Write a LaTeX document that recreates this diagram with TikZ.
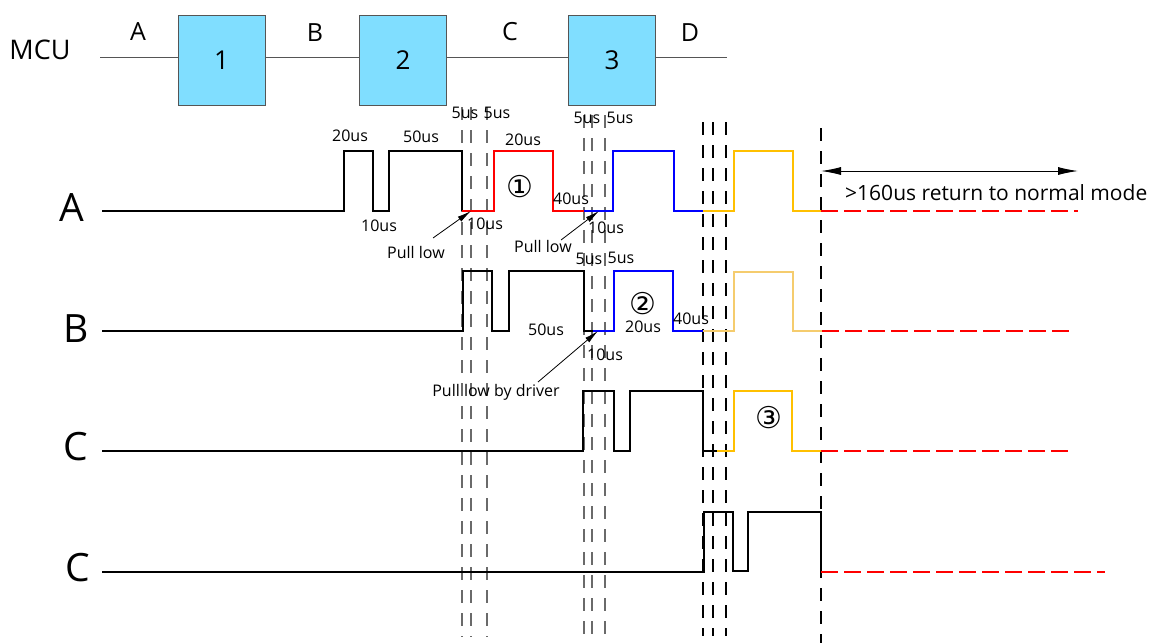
\documentclass[tikz,border=0pt]{standalone}
\usepackage{fontspec}
\setmainfont{Open Sans}
\newfontfamily\circfont{DejaVu Sans}
\usetikzlibrary{arrows.meta}

\definecolor{boxcyan}{HTML}{80DEFF}
\definecolor{wred}{HTML}{FF0000}
\definecolor{wblue}{HTML}{0000FF}
\definecolor{wyel}{HTML}{FFC000}
\definecolor{wyellight}{HTML}{F5CC6E}
\definecolor{dgray}{HTML}{555555}
\definecolor{lgray}{HTML}{6A6A6A}

\tikzset{
  lbl/.style={font=\fontsize{16}{18}\selectfont, inner sep=0pt},
  toplbl/.style={font=\fontsize{25}{28}\selectfont, inner sep=0pt},
  rowlbl/.style={font=\fontsize{39}{44}\selectfont, inner sep=0pt},
  blk/.style={draw=dgray, fill=boxcyan, line width=1pt, minimum width=87pt,
    minimum height=90pt, font=\fontsize{26}{28}\selectfont, inner sep=0pt},
  busline/.style={draw=dgray, line width=1pt},
  wave/.style={line width=1.3pt, line join=miter},
  vdash/.style={line width=1.1pt, dash pattern=on 13pt off 10pt},
  vdashg/.style={vdash, lgray},
  reddash/.style={wred, line width=1.3pt, dash pattern=on 17pt off 6pt},
  note/.style={-{Latex[length=14pt,width=6pt]}, line width=0.8pt},
  span/.style={{Latex[length=20pt,width=8pt]}-{Latex[length=20pt,width=8pt]}, line width=1pt},
  circ/.style={font=\circfont\fontsize{30}{32}\selectfont, inner sep=0pt},
}

\begin{document}
\begin{tikzpicture}[x=1pt,y=-1pt]
\useasboundingbox (0,0) rectangle (1153,643);

% ---- top block chain ----
\node[font=\fontsize{27}{30}\selectfont, inner sep=0pt] (mcu) at (40,50) {MCU};
\coordinate (bstart) at (100,57);
\coordinate (bend) at (727,57);
\node[blk] (b1) at (221.5,60) {1};
\node[blk] (b2) at (403,60) {2};
\node[blk] (b3) at (612,60) {3};
\draw[busline] (bstart) -- (bstart -| b1.west);
\draw[busline] (b1.east |- bstart) -- (b2.west |- bstart);
\draw[busline] (b2.east |- bstart) -- (b3.west |- bstart);
\draw[busline] (b3.east |- bstart) -- (bend);
\node[toplbl] (tA) at (138,32) {A};
\node[toplbl] (tB) at (315,33) {B};
\node[toplbl] (tC) at (510,32) {C};
\node[toplbl] (tD) at (690,33) {D};

% ---- row labels ----
\node[rowlbl] (rA) at (72,208) {A};
\node[rowlbl] (rB) at (76,329) {B};
\node[rowlbl] (rC) at (76,447) {C};
\node[rowlbl] (rD) at (78,568) {C};

% ---- dashed time markers ----
\foreach \x in {462,471,487} \draw[vdashg] (\x,107) -- (\x,637);
\foreach \x in {584,592,605} \draw[vdashg] (\x,115) -- (\x,637);
\foreach \x in {703,713,726} \draw[vdash] (\x,122) -- (\x,636);
\draw[vdash] (821,128) -- (821,643);

% ---- row A ----
\draw[wave] (102,211) -- (344,211) -- (344,151) -- (373,151) -- (373,211) -- (389,211)
  -- (389,151) -- (462,151) -- (462,211);
\draw[wave, wred] (462,211) -- (494,211) -- (494,151) -- (553,151) -- (553,211) -- (584,211);
\draw[wave, wblue] (584,211) -- (613,211) -- (613,151) -- (674,151) -- (674,211) -- (703,211);
\draw[wave, wyel] (703,211) -- (734,211) -- (734,151) -- (793,151) -- (793,211) -- (821,211);
\draw[reddash] (821,211) -- (1078,211);

% ---- row B ----
\draw[wave] (102,331) -- (463,331) -- (463,271) -- (492,271) -- (492,331) -- (509,331)
  -- (509,271) -- (584,271) -- (584,331) -- (593,331);
\draw[wave, wblue] (593,331) -- (614,331) -- (614,271) -- (673,271) -- (673,331) -- (703,331);
\draw[wave, wyellight] (703,331) -- (734,331) -- (734,272) -- (793,272) -- (793,331) -- (822,331);
\draw[reddash] (822,331) -- (1072,331);

% ---- row C ----
\draw[wave] (102,451) -- (583,451) -- (583,391) -- (614,391) -- (614,451) -- (630,451)
  -- (630,391) -- (703,391) -- (703,451) -- (717,451);
\draw[wave, wyel] (717,451) -- (734,451) -- (734,391) -- (792,391) -- (792,451) -- (821,451);
\draw[reddash] (821,451) -- (1072,451);

% ---- row C (second) ----
\draw[wave] (102,572) -- (704,572) -- (704,512) -- (733,512) -- (733,571) -- (748,571)
  -- (748,512) -- (821,512) -- (821,572);
\draw[reddash] (821,572) -- (1105,572);

% ---- labels row A ----
\node[lbl] (a1) at (350,136) {20us};
\node[lbl] (a2) at (421,137) {50us};
\node[lbl] (a3) at (379,226) {10us};
\node[lbl] (a4) at (465,113) {5us};
\node[lbl] (a5) at (497,113) {5us};
\node[lbl] (a6) at (523,140) {20us};
\node[circ] (c1) at (520,187) {①};
\node[lbl] (a7) at (571,199) {40us};
\node[lbl] (a8) at (485,224) {10us};
\node[lbl] (p1) at (416,252) {Pull low};
\node[lbl] (a9) at (587,118) {5us};
\node[lbl] (a10) at (620,118) {5us};
\node[lbl] (p2) at (543,246) {Pull low};
\node[lbl] (a11) at (606,228) {10us};

% ---- labels row B ----
\node[lbl] (b1l) at (589,259) {5us};
\node[lbl] (b2l) at (621,258) {5us};
\node[circ] (c2) at (643,304) {②};
\node[lbl] (b3l) at (643,327) {20us};
\node[lbl] (b4l) at (691,319) {40us};
\node[lbl] (b5l) at (546,330) {50us};
\node[lbl] (b6l) at (605,355) {10us};
\node[lbl] (p3) at (496,392) {Pull low by driver};

% ---- label row C ----
\node[circ] (c3) at (769,418) {③};

% ---- pull-low arrows ----
\coordinate (t1) at (433,238); \coordinate (h1) at (471,211);
\coordinate (t2) at (561,240); \coordinate (h2) at (599,211);
\coordinate (t3) at (538,382); \coordinate (h3) at (598,331);
\draw[note] (t1) -- (h1);
\draw[note] (t2) -- (h2);
\draw[note] (t3) -- (h3);

% ---- return to normal mode ----
\coordinate (s1) at (821,171); \coordinate (s2) at (1078,171);
\draw[span] (s1) -- (s2);
\node[font=\fontsize{21}{24}\selectfont, inner sep=0pt, anchor=west] (ret) at (845,193) {>160us return to normal mode};
\end{tikzpicture}
\end{document}
